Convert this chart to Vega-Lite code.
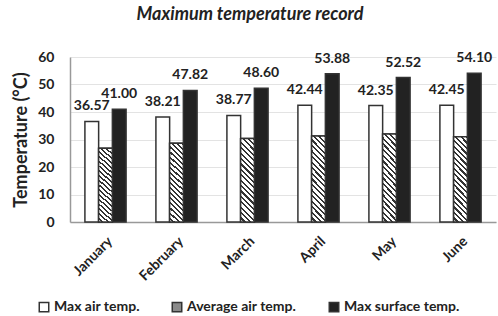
{
  "$schema": "https://vega.github.io/schema/vega-lite/v6.json",
  "width": 426,
  "height": 165,
  "autosize": {"type": "none"},
  "padding": {"left": 70, "top": 57, "right": 2, "bottom": 94},
  "background": "white",
  "title": {
    "text": "Maximum temperature record",
    "font": "Lato",
    "fontSize": 18,
    "fontWeight": "bold",
    "fontStyle": "italic",
    "color": "#222",
    "offset": 26,
    "dx": -33
  },
  "data": {
    "values": [
      {"month": "January", "series": "Max air temp.", "value": 36.57},
      {"month": "January", "series": "Average air temp.", "value": 26.8},
      {"month": "January", "series": "Max surface temp.", "value": 41.00},
      {"month": "February", "series": "Max air temp.", "value": 38.21},
      {"month": "February", "series": "Average air temp.", "value": 28.6},
      {"month": "February", "series": "Max surface temp.", "value": 47.82},
      {"month": "March", "series": "Max air temp.", "value": 38.77},
      {"month": "March", "series": "Average air temp.", "value": 30.4},
      {"month": "March", "series": "Max surface temp.", "value": 48.60},
      {"month": "April", "series": "Max air temp.", "value": 42.44},
      {"month": "April", "series": "Average air temp.", "value": 31.3},
      {"month": "April", "series": "Max surface temp.", "value": 53.88},
      {"month": "May", "series": "Max air temp.", "value": 42.35},
      {"month": "May", "series": "Average air temp.", "value": 32.0},
      {"month": "May", "series": "Max surface temp.", "value": 52.52},
      {"month": "June", "series": "Max air temp.", "value": 42.45},
      {"month": "June", "series": "Average air temp.", "value": 31.0},
      {"month": "June", "series": "Max surface temp.", "value": 54.10}
    ]
  },
  "encoding": {
    "x": {
      "field": "month",
      "type": "nominal",
      "sort": ["January", "February", "March", "April", "May", "June"],
      "scale": {"paddingInner": 0.42, "paddingOuter": 0.21},
      "axis": {
        "title": null,
        "labelAngle": -45,
        "labelFont": "Lato",
        "labelFontSize": 14,
        "labelFontWeight": "bold",
        "labelColor": "#222",
        "ticks": false,
        "labelPadding": 12,
        "domainColor": "#999",
        "domainWidth": 1.5
      }
    },
    "xOffset": {
      "field": "series",
      "type": "nominal",
      "scale": {"domain": ["Max air temp.", "Average air temp.", "Max surface temp."]}
    },
    "y": {
      "field": "value",
      "type": "quantitative",
      "scale": {"domain": [0, 60]},
      "axis": {
        "title": "Temperature (°C)",
        "titleFont": "Lato",
        "titleFontSize": 18,
        "titleFontWeight": "bold",
        "titleColor": "#222",
        "titlePadding": 7,
        "values": [0, 10, 20, 30, 40, 50, 60],
        "labelFont": "Lato",
        "labelFontSize": 14,
        "labelFontWeight": "bold",
        "labelColor": "#222",
        "ticks": false,
        "labelPadding": 16,
        "gridColor": "#e3e3e3",
        "domainColor": "#999",
        "domainWidth": 1.5
      }
    }
  },
  "layer": [
    {
      "mark": {"type": "bar", "stroke": "#333", "strokeWidth": 1.5},
      "encoding": {
        "color": {
          "field": "series",
          "type": "nominal",
          "scale": {
            "domain": ["Max air temp.", "Average air temp.", "Max surface temp."],
            "range": ["#ffffff", "#8a8a8a", "#222222"]
          },
          "legend": {
            "title": null,
            "orient": "none",
            "legendX": -33,
            "legendY": 243,
            "direction": "horizontal",
            "symbolType": "square",
            "symbolSize": 90,
            "symbolStrokeColor": "#333",
            "symbolStrokeWidth": 1.5,
            "symbolOpacity": 1,
            "labelFont": "Lato",
            "labelFontSize": 14,
            "labelFontWeight": "bold",
            "labelColor": "#222",
            "labelOffset": 3,
            "columnPadding": 29
          }
        }
      }
    },
    {
      "transform": [{"filter": {"field": "series", "equal": "Average air temp."}}],
      "mark": {
        "type": "bar",
        "stroke": "#333",
        "strokeWidth": 1.5,
        "fill": {
          "gradient": "linear",
          "x1": 1, "y1": 0, "x2": 0.813, "y2": 1.134,
          "stops": [
            {"offset": 0, "color": "#333"}, {"offset": 0.022, "color": "#333"}, {"offset": 0.022, "color": "#fff"}, {"offset": 0.0556, "color": "#fff"},
            {"offset": 0.0556, "color": "#333"}, {"offset": 0.0778, "color": "#333"}, {"offset": 0.0778, "color": "#fff"}, {"offset": 0.1111, "color": "#fff"},
            {"offset": 0.1111, "color": "#333"}, {"offset": 0.1333, "color": "#333"}, {"offset": 0.1333, "color": "#fff"}, {"offset": 0.1667, "color": "#fff"},
            {"offset": 0.1667, "color": "#333"}, {"offset": 0.1889, "color": "#333"}, {"offset": 0.1889, "color": "#fff"}, {"offset": 0.2222, "color": "#fff"},
            {"offset": 0.2222, "color": "#333"}, {"offset": 0.2444, "color": "#333"}, {"offset": 0.2444, "color": "#fff"}, {"offset": 0.2778, "color": "#fff"},
            {"offset": 0.2778, "color": "#333"}, {"offset": 0.3, "color": "#333"}, {"offset": 0.3, "color": "#fff"}, {"offset": 0.3333, "color": "#fff"},
            {"offset": 0.3333, "color": "#333"}, {"offset": 0.3556, "color": "#333"}, {"offset": 0.3556, "color": "#fff"}, {"offset": 0.3889, "color": "#fff"},
            {"offset": 0.3889, "color": "#333"}, {"offset": 0.4111, "color": "#333"}, {"offset": 0.4111, "color": "#fff"}, {"offset": 0.4444, "color": "#fff"},
            {"offset": 0.4444, "color": "#333"}, {"offset": 0.4667, "color": "#333"}, {"offset": 0.4667, "color": "#fff"}, {"offset": 0.5, "color": "#fff"},
            {"offset": 0.5, "color": "#333"}, {"offset": 0.5222, "color": "#333"}, {"offset": 0.5222, "color": "#fff"}, {"offset": 0.5556, "color": "#fff"},
            {"offset": 0.5556, "color": "#333"}, {"offset": 0.5778, "color": "#333"}, {"offset": 0.5778, "color": "#fff"}, {"offset": 0.6111, "color": "#fff"},
            {"offset": 0.6111, "color": "#333"}, {"offset": 0.6333, "color": "#333"}, {"offset": 0.6333, "color": "#fff"}, {"offset": 0.6667, "color": "#fff"},
            {"offset": 0.6667, "color": "#333"}, {"offset": 0.6889, "color": "#333"}, {"offset": 0.6889, "color": "#fff"}, {"offset": 0.7222, "color": "#fff"},
            {"offset": 0.7222, "color": "#333"}, {"offset": 0.7444, "color": "#333"}, {"offset": 0.7444, "color": "#fff"}, {"offset": 0.7778, "color": "#fff"},
            {"offset": 0.7778, "color": "#333"}, {"offset": 0.8, "color": "#333"}, {"offset": 0.8, "color": "#fff"}, {"offset": 0.8333, "color": "#fff"},
            {"offset": 0.8333, "color": "#333"}, {"offset": 0.8556, "color": "#333"}, {"offset": 0.8556, "color": "#fff"}, {"offset": 0.8889, "color": "#fff"},
            {"offset": 0.8889, "color": "#333"}, {"offset": 0.9111, "color": "#333"}, {"offset": 0.9111, "color": "#fff"}, {"offset": 0.9444, "color": "#fff"},
            {"offset": 0.9444, "color": "#333"}, {"offset": 0.9667, "color": "#333"}, {"offset": 0.9667, "color": "#fff"}, {"offset": 1, "color": "#fff"}
          ]
        }
      },
      "encoding": {}
    },
    {
      "transform": [{"filter": {"field": "series", "oneOf": ["Max air temp.", "Max surface temp."]}}],
      "mark": {
        "type": "text",
        "baseline": "bottom",
        "dy": -8,
        "font": "Lato",
        "fontSize": 14,
        "fontWeight": "bold",
        "color": "#222"
      },
      "encoding": {
        "text": {"field": "value", "type": "quantitative", "format": ".2f"}
      }
    }
  ],
  "config": {
    "view": {"stroke": null}
  }
}
